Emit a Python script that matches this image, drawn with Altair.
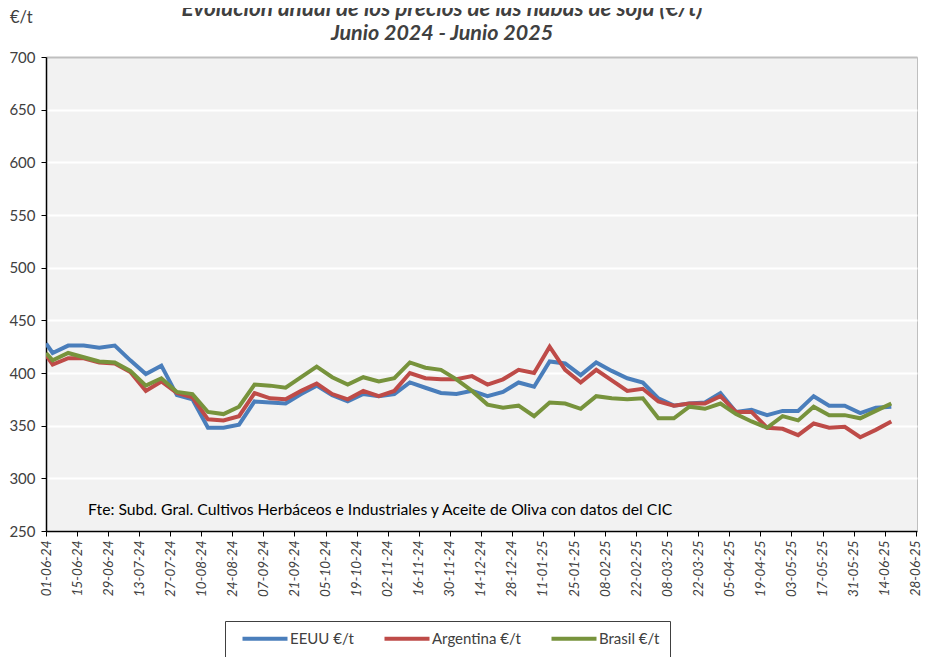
import altair as alt
import pandas as pd

# ---- data ----
series = ["EEUU €/t", "Argentina €/t", "Brasil €/t"]
colors = ["#4A7EBB", "#BE4B48", "#77933C"]

# first value is where the lines enter the chart (01-06-24), then weekly (Tuesdays)
dates = ["2024-06-01"] + [d.strftime("%Y-%m-%d") for d in pd.date_range("2024-06-04", periods=55, freq="7D")]

eeuu = [428, 419, 426, 426, 424, 426, 412, 399, 407, 379, 375, 348, 348, 351, 373, 372,
        371, 380, 388, 379, 373, 380, 378, 380, 391, 386, 381, 380, 383, 378, 382, 391,
        387, 411, 409, 398, 410, 402, 395, 391, 376, 369, 371, 372, 381, 363, 365, 360,
        364, 364, 378, 369, 369, 362, 367, 368]
argentina = [417, 408, 414, 414, 410, 409, 401, 383, 392, 381, 377, 356, 355, 359, 381, 376,
             375, 383, 390, 380, 375, 383, 378, 383, 400, 395, 394, 394, 397, 389, 394, 403,
             400, 425, 403, 391, 403, 393, 383, 385, 373, 369, 371, 371, 378, 363, 363, 348,
             347, 341, 352, 348, 349, 339, 346, 354]
brasil = [419, 412, 419, 415, 411, 410, 402, 388, 395, 382, 380, 363, 361, 368, 389, 388,
          386, 396, 406, 396, 389, 396, 392, 395, 410, 405, 403, 394, 383, 370, 367, 369,
          359, 372, 371, 366, 378, 376, 375, 376, 357, 357, 368, 366, 371, 361, 354, 348,
          359, 355, 368, 360, 360, 357, 364, 371]

tick_dates = list(pd.date_range("2024-06-01", "2025-06-28", freq="14D"))
y_ticks = list(range(250, 701, 50))

title_1 = "Evolución anual de los precios de las habas de soja (€/t)"
title_2 = "Junio 2024 - Junio 2025"
unit_label = "€/t"
source_note = "Fte: Subd. Gral. Cultivos Herbáceos e Industriales y Aceite de Oliva con datos del CIC"

FONT = "Lato"
TXT = "#404040"

rows = []
for name, vals in zip(series, [eeuu, argentina, brasil]):
    for d, v in zip(dates, vals):
        rows.append({"fecha": d, "serie": name, "precio": v})
df = pd.DataFrame(rows)

W, H = 871, 474

x_enc = alt.X(
    "fecha:T",
    title=None,
    scale=alt.Scale(
        type="utc",
        domain=[alt.DateTime(year=2024, month=6, date=1, utc=True),
                alt.DateTime(year=2025, month=6, date=28, hours=14, utc=True)],
    ),
    axis=alt.Axis(
        values=[alt.DateTime(year=t.year, month=t.month, date=t.day, utc=True) for t in tick_dates],
        format="%d-%m-%y",
        labelAngle=270,
        labelFont=FONT,
        labelFontSize=13.5,
        labelFontStyle="italic",
        labelColor=TXT,
        labelPadding=4,
        tickColor="black",
        tickSize=5,
        domainColor="black",
        domainWidth=1.5,
        grid=False,
        labelOverlap=False,
    ),
)

y_enc = alt.Y(
    "precio:Q",
    title=None,
    scale=alt.Scale(domain=[250, 700], nice=False, zero=False),
    axis=alt.Axis(
        values=y_ticks,
        labelFont=FONT,
        labelFontSize=15,
        labelColor=TXT,
        labelPadding=6,
        tickColor="black",
        tickSize=5,
        domainColor="black",
        domainWidth=1.5,
        grid=True,
        gridColor={"condition": {"test": "datum.value === 700", "value": "#BFBFBF"}, "value": "white"},
        gridWidth=2,
    ),
)

lines = alt.Chart(df).mark_line(strokeWidth=4, clip=True).encode(
    x=x_enc,
    y=y_enc,
    color=alt.Color(
        "serie:N",
        scale=alt.Scale(domain=series, range=colors),
        legend=alt.Legend(
            title=None,
            orient="none",
            legendX=179,
            legendY=564,
            direction="horizontal",
            symbolType="M0,0H9",
            symbolSize=100,
            symbolStrokeWidth=4,
            labelOffset=40,
            labelFont=FONT,
            labelFontSize=15,
            labelColor=TXT,
            columnPadding=22,
            padding=10,
            strokeColor="#404040",
            fillColor="white",
            labelLimit=200,
        ),
    ),
    order=alt.Order("serie:N"),
)

txt_df = pd.DataFrame({"a": [0]})
base_txt = alt.Chart(txt_df)

t1 = base_txt.mark_text(font=FONT, fontSize=22.5, fontWeight="bold", fontStyle="italic",
                        color=TXT, align="center", baseline="alphabetic").encode(
    x=alt.value(396), y=alt.value(-41), text=alt.value(title_1))
t2 = base_txt.mark_text(font=FONT, fontSize=21.5, fontWeight="bold", fontStyle="italic",
                        color=TXT, align="center", baseline="alphabetic").encode(
    x=alt.value(396), y=alt.value(-17), text=alt.value(title_2))
tu = base_txt.mark_text(font=FONT, fontSize=16.5, color=TXT, align="left",
                        baseline="alphabetic").encode(
    x=alt.value(-36), y=alt.value(-34), text=alt.value(unit_label))
ts = base_txt.mark_text(font=FONT, fontSize=15.75, color="black", align="left",
                        baseline="alphabetic").encode(
    x=alt.value(42), y=alt.value(458), text=alt.value(source_note))

chart = alt.layer(lines, t1, t2, tu, ts).properties(
    width=W,
    height=H,
    autosize=alt.AutoSizeParams(type="none"),
    padding={"left": 38, "top": 49, "right": 6, "bottom": 126},
    background="white",
).configure_view(
    fill="#F2F2F2",
    stroke="#BFBFBF",
    strokeWidth=1,
)

chart.save("out.html", embed_options={"renderer": "svg", "actions": False})
